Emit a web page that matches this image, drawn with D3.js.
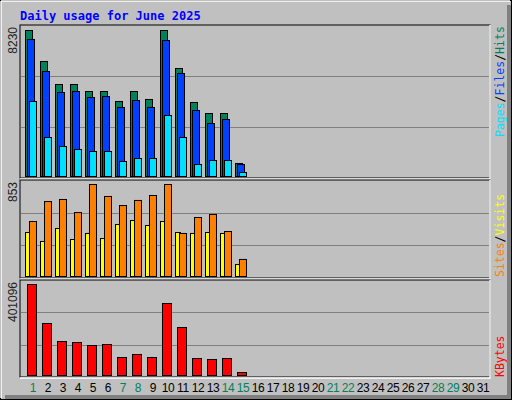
<!DOCTYPE html>
<html><head><meta charset="utf-8">
<script src="https://cdn.jsdelivr.net/npm/d3@7"></script>
<style>body{margin:0;background:#fff}</style>
</head><body>
<script>
// daily values (June 2025, days 1..15)
const days = d3.range(1, 32);
const weekend = [1, 7, 8, 14, 15, 21, 22, 28, 29];
const hits  = [8230, 6483, 5186, 5186, 4791, 4791, 4228, 4791, 4341, 8230, 6088, 4171, 3551, 3551, 733];
const files = [7723, 5919, 4735, 4791, 4453, 4510, 3890, 4284, 3890, 7666, 5806, 3720, 2988, 3213, 676];
const pages = [4228, 2198, 1691, 1522, 1409, 1409, 846, 1015, 1015, 3439, 2198, 676, 902, 902, 225];
const sites  = [408, 325, 445, 343, 399, 352, 482, 519, 473, 510, 408, 399, 408, 399, 111];
const visits = [510, 695, 714, 593, 853, 742, 658, 705, 751, 853, 399, 547, 575, 417, 158];
const kbytes = [401096, 229186, 149854, 145447, 132229, 136636, 79340, 92563, 79340, 317335, 211557, 74927, 70519, 74927, 13222];

const W = 512, H = 400;
const svg = d3.select("body").append("svg").attr("width", W).attr("height", H)
  .style("font-family", "DejaVu Sans Mono");

// frame
svg.append("rect").attr("x", 0.5).attr("y", 0.5).attr("width", W - 1).attr("height", H - 1).attr("fill", "#c0c0c0").attr("stroke", "#000");
svg.append("rect").attr("x", 507).attr("y", 5).attr("width", 4).attr("height", 394).attr("fill", "#808080");
svg.append("rect").attr("x", 5).attr("y", 395).attr("width", 506).attr("height", 4).attr("fill", "#808080");
svg.append("path").attr("d", "M1,1H510M1,1V398").attr("stroke", "#fff").attr("stroke-width", 1.5);

svg.append("text").attr("x", 20).attr("y", 20).attr("fill", "#0000ff").attr("font-weight", "bold")
  .attr("font-size", 12).text("Daily usage for June 2025");

const x = d3.scaleBand().domain(days).range([25, 490]);

const panels = [
  { top: 25, bot: 178, base: 176, max: 8230, yTop: 30 },
  { top: 180, bot: 278, base: 276, max: 853, yTop: 184 },
  { top: 280, bot: 377, base: 375, max: 401096, yTop: 284 }
];
panels.forEach(p => {
  p.y = d3.scaleLinear().domain([0, p.max]).range([p.base, p.yTop]);
  svg.append("rect").attr("x", 20).attr("y", p.top).attr("width", 470).attr("height", p.bot - p.top)
    .attr("fill", "#c0c0c0").attr("stroke", "#000");
  const h = p.bot - p.top;
  [1 / 3, 2 / 3].forEach(f => {
    const gy = Math.round(p.top + h * f) + 0.5;
    svg.append("line").attr("x1", 21).attr("x2", 490).attr("y1", gy).attr("y2", gy).attr("stroke", "#808080");
  });
  svg.append("path").attr("d", `M20,${p.bot + 1}H490V${p.top}`).attr("stroke", "#fff").attr("fill", "none").attr("stroke-width", 1.5);
  svg.append("text").attr("transform", `translate(17,${p.top + 2}) rotate(-90)`).attr("text-anchor", "end")
    .attr("font-family", "Liberation Sans").attr("font-size", 12).attr("fill", "#222").text(p.max);
});

function bars(data, p, dx, w, color) {
  svg.append("g").selectAll("rect").data(data).join("rect")
    .attr("x", (d, i) => x(i + 1) + dx + 0.5).attr("y", d => p.y(d) + 0.5)
    .attr("width", w).attr("height", d => p.base - p.y(d))
    .attr("fill", color).attr("stroke", "#000");
}
bars(hits, panels[0], 0, 7, "#00805c");
bars(files, panels[0], 2, 7, "#0040ff");
bars(pages, panels[0], 4, 7, "#00e0ff");
bars(sites, panels[1], 0, 5, "#ffff00");
bars(visits, panels[1], 4, 7, "#ff8000");
bars(kbytes, panels[2], 2, 9, "#ff0000");

// day labels
svg.append("g").selectAll("text").data(days).join("text")
  .attr("x", d => x(d) + 8).attr("y", 392).attr("text-anchor", "middle")
  .attr("font-family", "Liberation Sans").attr("font-size", 12).attr("letter-spacing", -0.3)
  .attr("fill", d => weekend.includes(d) ? "#00805c" : "#000").text(d => d);

// right-side legends
function legend(parts, yEnd) {
  const t = svg.append("text").attr("transform", `translate(504,${yEnd}) rotate(-90)`)
    .attr("font-size", 11.5);
  parts.forEach(([s, c]) => t.append("tspan").attr("fill", c).text(s));
}
legend([["Pages", "#00e0ff"], ["/", "#000"], ["Files", "#0040ff"], ["/", "#000"], ["Hits", "#00805c"]], 137);
legend([["Sites", "#ff8000"], ["/", "#000"], ["Visits", "#ffff00"]], 277);
legend([["KBytes", "#ff0000"]], 377);
</script>
</body></html>
